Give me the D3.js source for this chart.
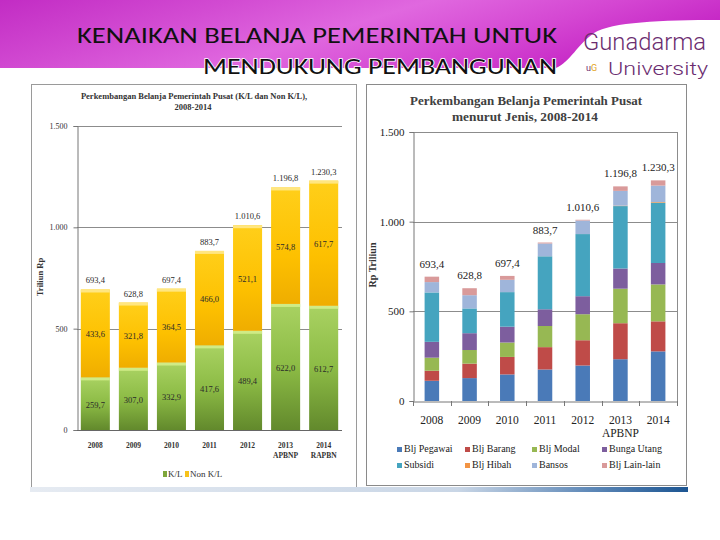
<!DOCTYPE html>
<html>
<head>
<meta charset="utf-8">
<script src="https://cdn.jsdelivr.net/npm/d3@7"></script>
<style>
body { margin: 0; background: #fff; }
svg { display: block; }
</style>
</head>
<body>
<svg id="slide" width="720" height="540"></svg>
<script>
var years = ["2008", "2009", "2010", "2011", "2012", "2013", "2014"];
var leftNotes = ["", "", "", "", "", "APBNP", "RAPBN"];
var rightNotes = ["", "", "", "", "", "APBNP", ""];
var yTicks = [0, 500, 1000, 1500];

// left chart: K/L vs Non K/L
var klValues = [259.7, 307.0, 332.9, 417.6, 489.4, 622.0, 612.7];
var nonKlValues = [433.6, 321.8, 364.5, 466.0, 521.1, 574.8, 617.7];
var totals = [693.4, 628.8, 697.4, 883.7, 1010.6, 1196.8, 1230.3];

// right chart: menurut jenis
var jenisNames = ["Blj Pegawai", "Blj Barang", "Blj Modal", "Bunga Utang", "Subsidi", "Blj Hibah", "Bansos", "Blj Lain-lain"];
var bljPegawai = [112.8, 127.7, 148.1, 175.7, 197.9, 233.0, 276.7];
var bljBarang = [56.0, 80.7, 97.6, 124.6, 140.9, 200.7, 167.5];
var bljModal = [72.8, 75.9, 80.3, 117.9, 145.1, 192.6, 205.8];
var bungaUtang = [88.4, 93.8, 88.4, 93.3, 100.5, 112.5, 119.5];
var subsidi = [275.3, 138.1, 192.7, 295.4, 346.4, 348.1, 336.2];
var bljHibah = [0, 0, 0.1, 0.3, 0.1, 2.3, 3.6];
var bansos = [57.7, 73.8, 68.6, 71.1, 75.6, 82.5, 91.8];
var bljLain = [30.3, 38.9, 21.7, 5.4, 4.1, 25.1, 29.2];

var jenisColors = ["#4a7ab8", "#bf4b48", "#97b853", "#7d5e9e", "#45a4bf", "#f29444", "#9fb5da", "#d99a9a"];

var idLocale = d3.formatLocale({decimal: ",", thousands: ".", grouping: [3], currency: ["Rp", ""]});
var fmtVal = idLocale.format(",.1f");
var fmtTick = idLocale.format(",");

var svg = d3.select("#slide");
var defs = svg.append("defs");

function gradient(id, stops, x2, y2) {
    var g = defs.append("linearGradient").attr("id", id)
        .attr("x1", 0).attr("y1", 0).attr("x2", x2).attr("y2", y2);
    stops.forEach(function(s) {
        g.append("stop").attr("offset", s[0]).attr("stop-color", s[1]);
    });
}
gradient("band", [["0%", "#c22cc4"], ["30%", "#d24bd2"], ["55%", "#e068df"], ["80%", "#d446d2"], ["100%", "#c628c6"]], 1, 0.3);
gradient("greenBar", [["0%", "#a9d262"], ["50%", "#8cbb45"], ["100%", "#62892c"]], 0, 1);
gradient("yellowBar", [["0%", "#ffcf1a"], ["60%", "#fdc000"], ["100%", "#efad00"]], 0, 1);
gradient("strip", [["0%", "#e6ebf2"], ["65%", "#c9d6e6"], ["85%", "#5f89b8"], ["100%", "#1c5592"]], 1, 0);

// header
svg.append("path")
    .attr("d", "M0,0 H720 V20 C660,20 612,22 594,33 C578,44 570,62 556,68 H0 Z")
    .attr("fill", "url(#band)");

var titleFont = "Carlito, 'Noto Sans', sans-serif";
svg.append("text")
    .attr("x", 77).attr("y", 43)
    .attr("textLength", 480).attr("lengthAdjust", "spacingAndGlyphs")
    .style("font-family", titleFont).style("font-size", "23px")
    .attr("fill", "#111")
    .text("KENAIKAN BELANJA PEMERINTAH  UNTUK");
svg.append("text")
    .attr("x", 203).attr("y", 74)
    .attr("textLength", 354).attr("lengthAdjust", "spacingAndGlyphs")
    .style("font-family", titleFont).style("font-size", "23px")
    .attr("fill", "#111")
    .attr("stroke", "#fff").attr("stroke-width", 1.5).attr("paint-order", "stroke")
    .text("MENDUKUNG PEMBANGUNAN");

svg.append("text")
    .attr("x", 583).attr("y", 50)
    .attr("textLength", 123).attr("lengthAdjust", "spacingAndGlyphs")
    .style("font-family", "Roboto, sans-serif").style("font-weight", 300).style("font-size", "23px")
    .attr("fill", "#6b2d70")
    .text("Gunadarma");
svg.append("text")
    .attr("x", 608).attr("y", 75)
    .attr("textLength", 100).attr("lengthAdjust", "spacingAndGlyphs")
    .style("font-family", "Roboto, sans-serif").style("font-weight", 300).style("font-size", "19px")
    .attr("fill", "#6b2d70")
    .text("University");
var ug = svg.append("text")
    .attr("x", 586).attr("y", 71)
    .style("font-family", "Roboto, sans-serif").style("font-size", "9px");
ug.append("tspan").attr("fill", "#6b2d70").text("u");
ug.append("tspan").attr("fill", "#e3a51c").text("G");

// panels
svg.append("rect").attr("x", 31.5).attr("y", 84.5).attr("width", 325).attr("height", 403)
    .attr("fill", "#fff").attr("stroke", "#9a9a9a");
svg.append("rect").attr("x", 366.5).attr("y", 84.5).attr("width", 320).attr("height", 401)
    .attr("fill", "#fff").attr("stroke", "#8a8a8a");
svg.append("rect").attr("x", 30).attr("y", 487).attr("width", 658).attr("height", 5)
    .attr("fill", "url(#strip)");

// ---------- left chart ----------
var serif = "'Liberation Serif', 'DejaVu Serif', serif";
var left = svg.append("g");
var lx = d3.scaleBand().domain(years).range([77, 342]).paddingInner(0.237).paddingOuter(0.1);
var ly = d3.scaleLinear().domain([0, 1500]).range([430, 126]);

left.append("text").attr("x", 194).attr("y", 99).attr("text-anchor", "middle")
    .style("font-family", serif).style("font-size", "8.5px").style("font-weight", "bold").attr("fill", "#333")
    .text("Perkembangan Belanja Pemerintah Pusat (K/L dan Non K/L),");
left.append("text").attr("x", 193).attr("y", 110).attr("text-anchor", "middle")
    .style("font-family", serif).style("font-size", "8.5px").style("font-weight", "bold").attr("fill", "#333")
    .text("2008-2014");

left.selectAll(".lgrid").data(yTicks.slice(1)).enter().append("line")
    .attr("x1", 77).attr("x2", 342)
    .attr("y1", d => Math.round(ly(d)) + 0.5).attr("y2", d => Math.round(ly(d)) + 0.5)
    .attr("stroke", "#8c8c8c");

var lAxis = left.append("g").attr("transform", "translate(77.5,0)")
    .call(d3.axisLeft(ly).tickValues(yTicks).tickFormat(fmtTick).tickSize(4).tickPadding(6));
lAxis.select(".domain").attr("stroke", "#777");
lAxis.selectAll(".tick line").attr("stroke", "#777");
lAxis.selectAll("text").style("font-family", serif).style("font-size", "8px").attr("fill", "#333");

left.append("text").attr("transform", "translate(43,277) rotate(-90)").attr("text-anchor", "middle")
    .style("font-family", serif).style("font-size", "8.5px").style("font-weight", "bold").attr("fill", "#333")
    .text("Triliun Rp");

var lBars = left.selectAll(".lbar").data(years).enter().append("g");
lBars.append("rect")
    .attr("x", d => lx(d)).attr("width", lx.bandwidth())
    .attr("y", (d, i) => ly(klValues[i])).attr("height", (d, i) => ly(0) - ly(klValues[i]))
    .attr("fill", "url(#greenBar)");
lBars.append("rect")
    .attr("x", d => lx(d)).attr("width", lx.bandwidth())
    .attr("y", (d, i) => ly(klValues[i])).attr("height", 3)
    .attr("fill", "#cfeb86");
lBars.append("rect")
    .attr("x", d => lx(d)).attr("width", lx.bandwidth())
    .attr("y", (d, i) => ly(klValues[i] + nonKlValues[i])).attr("height", (d, i) => ly(klValues[i]) - ly(klValues[i] + nonKlValues[i]))
    .attr("fill", "url(#yellowBar)");
lBars.append("rect")
    .attr("x", d => lx(d)).attr("width", lx.bandwidth())
    .attr("y", (d, i) => ly(klValues[i] + nonKlValues[i])).attr("height", 3)
    .attr("fill", "#ffe680");

var lLabel = function(sel) {
    sel.attr("text-anchor", "middle").style("font-family", serif).style("font-size", "8.5px").attr("fill", "#2a2a2a");
};
lBars.append("text").call(lLabel)
    .attr("x", d => lx(d) + lx.bandwidth() / 2)
    .attr("y", (d, i) => (ly(0) + ly(klValues[i])) / 2 + 4)
    .text((d, i) => fmtVal(klValues[i]));
lBars.append("text").call(lLabel)
    .attr("x", d => lx(d) + lx.bandwidth() / 2)
    .attr("y", (d, i) => (ly(klValues[i]) + ly(klValues[i] + nonKlValues[i])) / 2 + 4)
    .text((d, i) => fmtVal(nonKlValues[i]));
lBars.append("text").call(lLabel)
    .attr("x", d => lx(d) + lx.bandwidth() / 2)
    .attr("y", (d, i) => ly(totals[i]) - 6)
    .text((d, i) => fmtVal(totals[i]));

left.append("line").attr("x1", 77).attr("x2", 342).attr("y1", 430.5).attr("y2", 430.5).attr("stroke", "#666");

var lxl = left.selectAll(".lxl").data(years).enter().append("text")
    .attr("text-anchor", "middle")
    .style("font-family", serif).style("font-size", "7.5px").style("font-weight", "bold").attr("fill", "#333");
lxl.append("tspan").attr("x", d => lx(d) + lx.bandwidth() / 2).attr("y", 448).text(d => d);
lxl.append("tspan").attr("x", d => lx(d) + lx.bandwidth() / 2).attr("y", 458).text((d, i) => leftNotes[i]);

var lLegend = [["K/L", "#7ea63a", 163], ["Non K/L", "#f7c21a", 185]];
lLegend.forEach(function(l) {
    left.append("rect").attr("x", l[2]).attr("y", 471).attr("width", 4).attr("height", 6).attr("fill", l[1]);
    left.append("text").attr("x", l[2] + 5).attr("y", 477)
        .style("font-family", serif).style("font-size", "9px").attr("fill", "#333").text(l[0]);
});

// ---------- right chart ----------
var right = svg.append("g");
var rx = d3.scaleBand().domain(years).range([413, 677]);
var ry = d3.scaleLinear().domain([0, 1500]).range([401, 132]);
var barW = rx.bandwidth() * 0.385;

right.append("text").attr("x", 526).attr("y", 105).attr("text-anchor", "middle")
    .attr("textLength", 232).attr("lengthAdjust", "spacingAndGlyphs")
    .style("font-family", serif).style("font-size", "13px").style("font-weight", "bold").attr("fill", "#404040")
    .text("Perkembangan Belanja Pemerintah Pusat");
right.append("text").attr("x", 525).attr("y", 121).attr("text-anchor", "middle")
    .attr("textLength", 146).attr("lengthAdjust", "spacingAndGlyphs")
    .style("font-family", serif).style("font-size", "13px").style("font-weight", "bold").attr("fill", "#404040")
    .text("menurut Jenis, 2008-2014");

right.selectAll(".rgrid").data(yTicks.slice(1)).enter().append("line")
    .attr("x1", 413).attr("x2", 677)
    .attr("y1", d => Math.round(ry(d)) + 0.5).attr("y2", d => Math.round(ry(d)) + 0.5)
    .attr("stroke", "#8c8c8c");
right.append("line").attr("x1", 677.5).attr("x2", 677.5).attr("y1", ry(1500)).attr("y2", ry(0))
    .attr("stroke", "#8c8c8c");

var rAxis = right.append("g").attr("transform", "translate(413.5,0)")
    .call(d3.axisLeft(ry).tickValues(yTicks).tickFormat(fmtTick).tickSize(4).tickPadding(5));
rAxis.select(".domain").attr("stroke", "#777");
rAxis.selectAll(".tick line").attr("stroke", "#777");
rAxis.selectAll("text").style("font-family", serif).style("font-size", "11px").attr("fill", "#222");

right.append("text").attr("transform", "translate(376,265) rotate(-90)").attr("text-anchor", "middle")
    .style("font-family", serif).style("font-size", "10px").style("font-weight", "bold").attr("fill", "#333")
    .text("Rp Triliun");

var jenisSeries = [bljPegawai, bljBarang, bljModal, bungaUtang, subsidi, bljHibah, bansos, bljLain];
var rows = years.map(function(y, i) {
    var r = {year: y};
    jenisNames.forEach(function(n, k) { r[n] = jenisSeries[k][i]; });
    return r;
});
var stacked = d3.stack().keys(jenisNames)(rows);

right.selectAll(".layer").data(stacked).enter().append("g")
    .attr("fill", (d, k) => jenisColors[k])
    .selectAll("rect").data(d => d).enter().append("rect")
    .attr("x", d => rx(d.data.year) + (rx.bandwidth() - barW) / 2)
    .attr("width", barW)
    .attr("y", d => ry(d[1]))
    .attr("height", d => ry(d[0]) - ry(d[1]));

right.selectAll(".rtot").data(years).enter().append("text")
    .attr("text-anchor", "middle")
    .attr("x", d => rx(d) + rx.bandwidth() / 2)
    .attr("y", (d, i) => ry(totals[i]) - 9)
    .style("font-family", serif).style("font-size", "11px").attr("fill", "#222")
    .text((d, i) => fmtVal(totals[i]));

var rBottom = right.append("g").attr("transform", "translate(0,401.5)")
    .call(d3.axisBottom(rx).tickSize(0).tickFormat(""));
rBottom.select(".domain").attr("stroke", "#777");
right.selectAll(".rtick").data(years.concat([null])).enter().append("line")
    .attr("x1", (d, i) => Math.round(413 + i * rx.step()) + 0.5)
    .attr("x2", (d, i) => Math.round(413 + i * rx.step()) + 0.5)
    .attr("y1", 401).attr("y2", 406).attr("stroke", "#777");

var rxl = right.selectAll(".rxl").data(years).enter().append("text")
    .attr("text-anchor", "middle")
    .style("font-family", serif).style("font-size", "11.5px").attr("fill", "#222");
rxl.append("tspan").attr("x", d => rx(d) + rx.bandwidth() / 2).attr("y", 424).text(d => d);
rxl.append("tspan").attr("x", d => rx(d) + rx.bandwidth() / 2).attr("y", 437).text((d, i) => rightNotes[i]);

var legendCols = [397, 465, 532, 602];
var rLegend = right.selectAll(".rleg").data(jenisNames).enter().append("g")
    .attr("transform", (d, k) => "translate(" + legendCols[k % 4] + "," + (k < 4 ? 451 : 467) + ")");
rLegend.append("rect").attr("x", 0).attr("y", -4).attr("width", 5).attr("height", 5)
    .attr("fill", (d, k) => jenisColors[k]);
rLegend.append("text").attr("x", 7).attr("y", 1)
    .style("font-family", serif).style("font-size", "10px").attr("fill", "#222")
    .text(d => d);
</script>
</body>
</html>
